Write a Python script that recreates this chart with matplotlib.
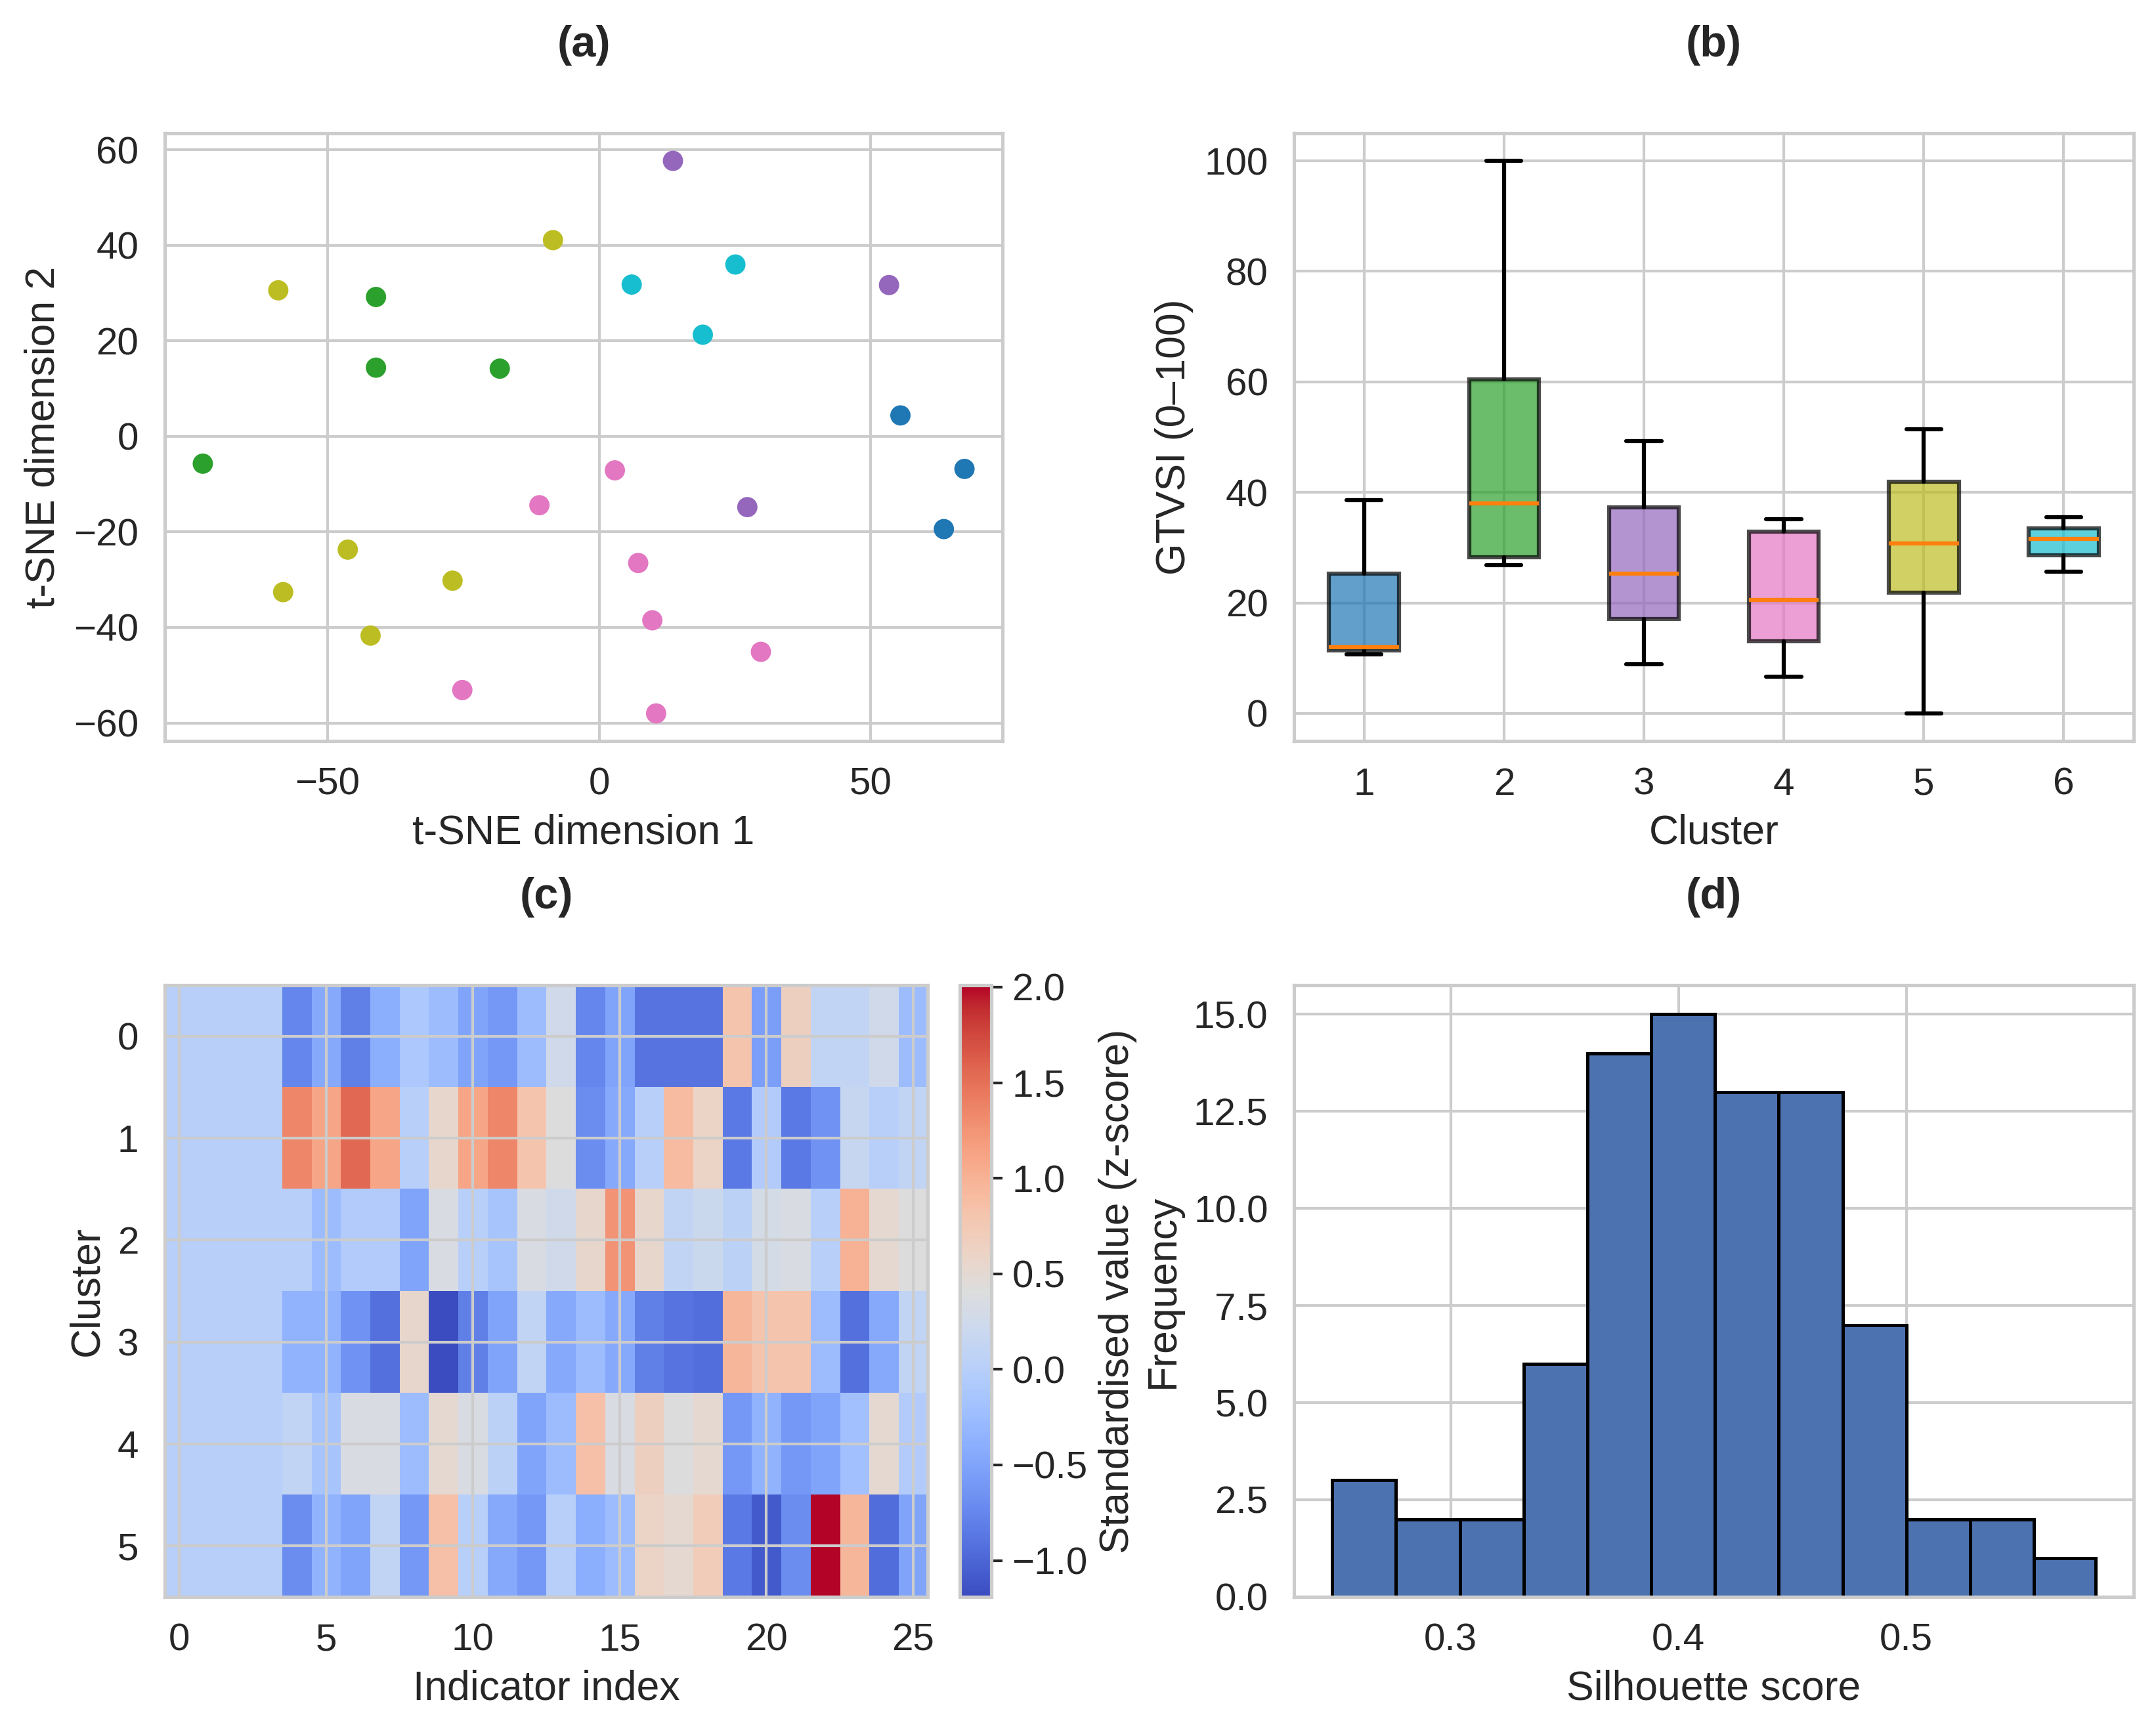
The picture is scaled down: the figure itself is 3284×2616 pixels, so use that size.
import matplotlib
matplotlib.use("Agg")
import matplotlib.pyplot as plt
import numpy as np
import seaborn as sns

# (a) t-SNE embedding, one point per country, coloured by cluster
tsne_x = [13.6, -8.5, 25.1, 6.0, 53.4, -59.1, -41.1, 19.1, -41.1, -18.3, 55.5, -73.0, 2.9,
          67.3, -11.0, 27.3, 63.5, -46.3, 7.2, -27.0, -58.2, 9.8, -42.1, 29.8, -25.2, 10.5]
tsne_y = [57.7, 41.1, 36.0, 31.8, 31.7, 30.6, 29.2, 21.3, 14.4, 14.2, 4.4, -5.7, -7.1,
          -6.8, -14.4, -14.8, -19.4, -23.7, -26.5, -30.2, -32.6, -38.5, -41.7, -45.1, -53.1, -58.0]
tsne_cluster = [2, 4, 5, 5, 2, 4, 1, 5, 1, 1, 0, 1, 3,
                0, 3, 2, 0, 4, 3, 4, 4, 3, 4, 3, 3, 3]

# (b) GTVSI per cluster
gtvsi_by_cluster = [
    [10.7, 12.0, 38.6],
    [26.9, 28.8, 47.2, 100.0],
    [8.9, 25.3, 49.3],
    [6.7, 12.0, 14.2, 20.6, 31.5, 34.3, 35.2],
    [0.0, 20.0, 27.2, 34.4, 44.5, 51.4],
    [25.6, 31.6, 35.5],
]
cluster_labels = ["1", "2", "3", "4", "5", "6"]
cluster_colors = ["#1f77b4", "#2ca02c", "#9467bd", "#e377c2", "#bcbd22", "#17becf"]

# (c) cluster profiles (z-scores), 6 clusters x 26 indicators
profile = [
    [0, 0, 0, 0, -0.75, -0.45, -0.8, -0.4, -0.1, -0.25, -0.5, -0.6, -0.25, 0.25,
     -0.75, -0.5, -0.9, -0.9, -0.9, 0.8, -0.55, 0.65, 0.1, 0.1, 0.25, -0.25],
    [0, 0, 0, 0, 1.35, 1.1, 1.55, 1.1, 0.0, 0.55, 1.1, 1.35, 0.8, 0.4,
     -0.7, -0.45, 0.0, 0.9, 0.6, -0.85, -0.05, -0.85, -0.65, 0.15, 0.0, 0.1],
    [0, 0, 0, 0, 0.0, -0.25, -0.05, -0.05, -0.5, 0.35, 0.0, -0.15, 0.35, 0.25,
     0.55, 1.25, 0.55, 0.1, 0.2, 0.05, 0.3, 0.35, 0.0, 1.0, 0.5, 0.4],
    [0, 0, 0, 0, -0.35, -0.35, -0.65, -0.92, 0.55, -1.19, -0.8, -0.5, 0.1, -0.45,
     -0.25, -0.45, -0.8, -0.9, -0.93, 0.95, 0.8, 0.8, -0.25, -0.92, -0.45, 0.1],
    [0, 0, 0, 0, 0.1, -0.15, 0.35, 0.35, -0.25, 0.5, 0.35, 0.05, -0.5, -0.25,
     0.85, 0.35, 0.65, 0.4, 0.5, -0.6, -0.35, -0.6, -0.5, -0.2, 0.5, -0.05],
    [0, 0, 0, 0, -0.7, -0.35, -0.5, 0.1, -0.6, 0.85, 0.0, -0.45, -0.6, 0.0,
     -0.4, -0.25, 0.6, 0.5, 0.7, -0.85, -1.08, -0.7, 2.01, 0.95, -0.95, -0.5],
]
indicator_ticks = [0, 5, 10, 15, 20, 25]

# (d) silhouette score distribution
sil_edges = [0.248, 0.276, 0.304, 0.332, 0.360, 0.388, 0.416,
             0.444, 0.472, 0.500, 0.528, 0.556, 0.583]
sil_counts = [3, 2, 2, 6, 14, 15, 13, 13, 7, 2, 2, 1]

sns.set_theme(style="whitegrid")
plt.rcParams["font.family"] = ["Liberation Sans", "DejaVu Sans"]
plt.rcParams["xtick.labelsize"] = 14
plt.rcParams["ytick.labelsize"] = 14
plt.rcParams["axes.labelsize"] = 15

fig = plt.figure(figsize=(10.947, 8.72), dpi=300)
ax_a = fig.add_axes([0.0764, 0.5684, 0.3886, 0.354])
ax_b = fig.add_axes([0.6002, 0.5684, 0.3894, 0.354])
ax_c = fig.add_axes([0.0764, 0.0700, 0.3539, 0.3562])
ax_cb = fig.add_axes([0.4452, 0.0700, 0.0146, 0.3562])
ax_d = fig.add_axes([0.6002, 0.0700, 0.3894, 0.3562])
title_kw = dict(fontsize=16, fontweight="bold", pad=28)

# (a)
ax_a.scatter(tsne_x, tsne_y, c=[cluster_colors[k] for k in tsne_cluster], s=55, linewidths=0)
ax_a.set_xlabel("t-SNE dimension 1")
ax_a.set_ylabel("t-SNE dimension 2")
ax_a.set_xticks([-50, 0, 50])
ax_a.set_yticks([-60, -40, -20, 0, 20, 40, 60])
ax_a.set_title("(a)", **title_kw)

# (b)
bp = ax_b.boxplot(gtvsi_by_cluster, tick_labels=cluster_labels, widths=0.5, patch_artist=True,
                  medianprops=dict(color="#ff7f0e", linewidth=1.5),
                  whiskerprops=dict(color="black", linewidth=1.5),
                  capprops=dict(color="black", linewidth=1.5))
for patch, col in zip(bp["boxes"], cluster_colors):
    patch.set_facecolor(col)
    patch.set_alpha(0.7)
    patch.set_edgecolor("black")
    patch.set_linewidth(1.5)
ax_b.set_xlabel("Cluster")
ax_b.set_ylabel("GTVSI (0–100)")
ax_b.set_title("(b)", **title_kw)

# (c)
im = ax_c.imshow(np.array(profile), aspect="auto", cmap="coolwarm")
ax_c.set_xticks(indicator_ticks)
ax_c.set_yticks(range(len(profile)))
ax_c.set_xlabel("Indicator index")
ax_c.set_ylabel("Cluster")
ax_c.set_title("(c)", **title_kw)
cb = fig.colorbar(im, cax=ax_cb)
cb.set_label("Standardised value (z-score)", fontsize=15)
cb.outline.set_edgecolor("#cccccc")
ax_cb.tick_params(length=4, width=1, color="#262626")

# (d)
ax_d.hist(sil_edges[:-1], bins=sil_edges, weights=sil_counts,
          color="#4c72b0", edgecolor="black", linewidth=1.2)
ax_d.set_xlabel("Silhouette score")
ax_d.set_ylabel("Frequency")
ax_d.set_xticks([0.3, 0.4, 0.5])
ax_d.set_title("(d)", **title_kw)

fig.savefig("out.png", dpi=300)
plt.close(fig)
